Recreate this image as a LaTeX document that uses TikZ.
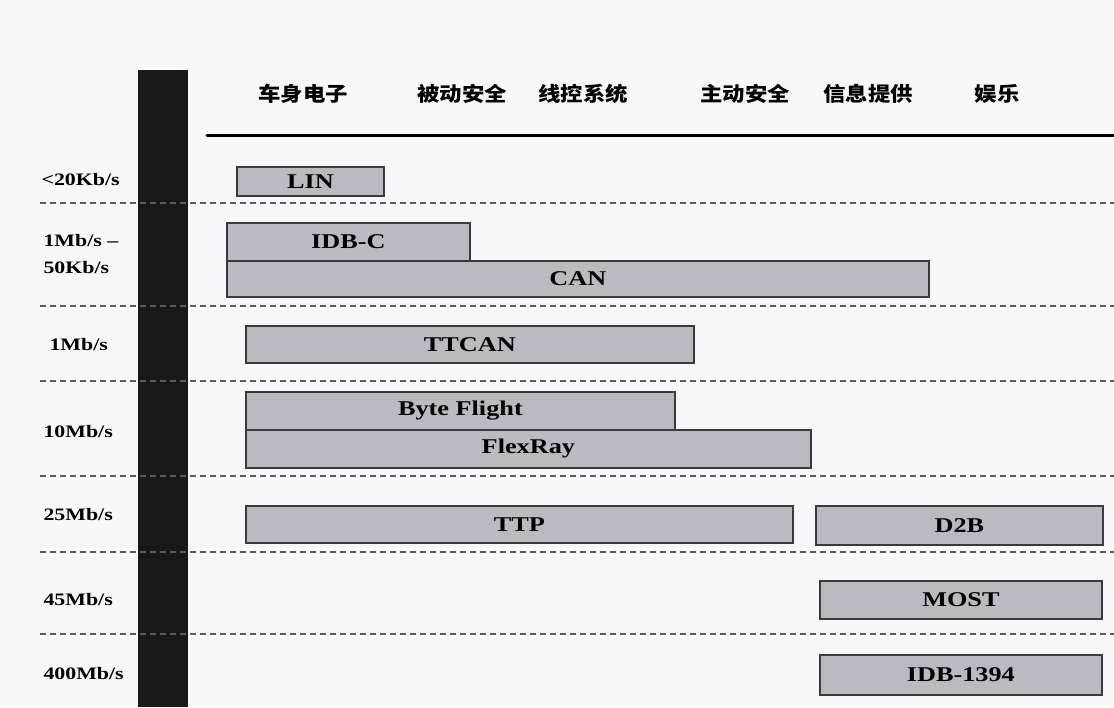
\documentclass[tikz,border=0pt]{standalone}
\usepackage{fontspec}
\setmainfont{Liberation Serif}
\newfontfamily\widefont[FakeStretch=1.25]{Liberation Serif}
\newfontfamily\cjk[FakeStretch=1.12]{Noto Sans CJK SC}
\definecolor{bgc}{RGB}{251,246,250}
\definecolor{barfill}{RGB}{190,185,193}
\definecolor{barline}{RGB}{60,58,62}
\definecolor{dashc}{RGB}{90,90,95}
\begin{document}
\begin{tikzpicture}[x=1pt,y=-1pt,
  busbox/.style={draw=barline,fill=barfill,line width=1.8pt,inner sep=0pt,anchor=north west,
    font=\widefont\bfseries\fontsize{21}{21}\selectfont},
  ratelabel/.style={anchor=west,font=\widefont\bfseries\fontsize{17.5}{27}\selectfont,align=left},
  headlabel/.style={font=\cjk\bfseries\fontsize{20}{20}\selectfont},
  sepline/.style={draw=dashc,line width=1.4pt,dash pattern=on 6pt off 4pt}]
\fill[bgc] (0,0) rectangle (1114,707);
\useasboundingbox (0,0) rectangle (1114,707);
% black vertical bar
\fill[black!90] (138,70) rectangle (188,707);
% top thick line
\coordinate (tl) at (207,135);
\coordinate (tr) at (1114,135);
\draw[line width=3pt,line cap=round] (tl) -- (tr);
% headers
\node[headlabel] (h1) at (303,94) {车身电子};
\node[headlabel] (h2) at (462,94) {被动安全};
\node[headlabel] (h3) at (583,94) {线控系统};
\node[headlabel] (h4) at (745,94) {主动安全};
\node[headlabel] (h5) at (868,94) {信息提供};
\node[headlabel] (h6) at (997,94) {娱乐};
% dashed separators
\foreach \y/\n in {203/a,306/b,381/c,476/d,552/e,634/f}{
  \coordinate (s\n l) at (40,\y);
  \coordinate (s\n r) at (1114,\y);
  \draw[sepline] (s\n l) -- (s\n r);
}
% rate labels
\node[ratelabel] (r1) at (38,180) {<20Kb/s};
\node[ratelabel] (r2) at (40,254) {1Mb/s –\\50Kb/s};
\node[ratelabel] (r3) at (46,345) {1Mb/s};
\node[ratelabel] (r4) at (40,432) {10Mb/s};
\node[ratelabel] (r5) at (40,515) {25Mb/s};
\node[ratelabel] (r6) at (40,600) {45Mb/s};
\node[ratelabel] (r7) at (40,674) {400Mb/s};
% bus boxes
\node[busbox,minimum width=147pt,minimum height=29pt] (lin) at (236,166) {LIN};
\node[busbox,minimum width=243pt,minimum height=38pt] (idbc) at (226,222) {IDB-C};
\node[busbox,minimum width=702pt,minimum height=36pt] (can) at (226,260) {CAN};
\node[busbox,minimum width=448pt,minimum height=37pt] (ttcan) at (245,325) {TTCAN};
\node[busbox,minimum width=429pt,minimum height=38pt] (byte) at (245,391) {Byte Flight};
\node[busbox,minimum width=565pt,minimum height=38pt] (flex) at (245,429) {FlexRay};
\node[busbox,minimum width=547pt,minimum height=37pt] (ttp) at (245,505) {TTP};
\node[busbox,minimum width=287pt,minimum height=39pt] (d2b) at (815,505) {D2B};
\node[busbox,minimum width=282pt,minimum height=38pt] (most) at (819,580) {MOST};
\node[busbox,minimum width=282pt,minimum height=40pt] (idb) at (819,654) {IDB-1394};
\end{tikzpicture}
\end{document}
